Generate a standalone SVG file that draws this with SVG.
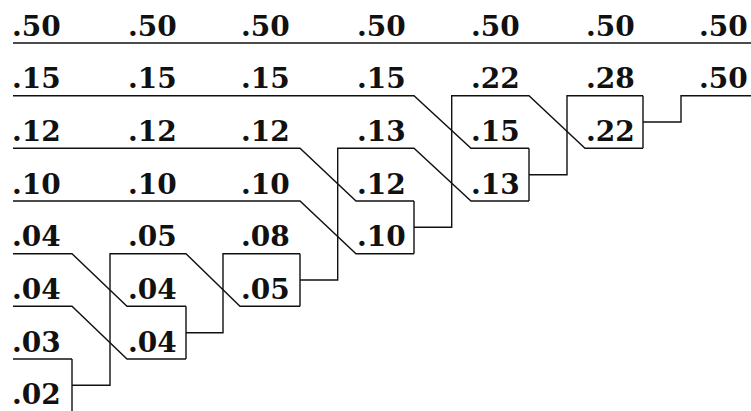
<svg xmlns="http://www.w3.org/2000/svg" width="751" height="411" viewBox="0 0 751 411">
<style>
text{font-family:"DejaVu Serif","Liberation Serif",serif;font-size:28px;font-weight:bold;fill:#111}
.c path{fill:none;stroke:#111;stroke-width:1.4}
</style>
<rect width="751" height="411" fill="#fff"/>
<g id="connectors" class="c">
<path d="M13,43 H751"/>
<path d="M13,95.7 H414 L471,148.3 H529"/>
<path d="M13,148.3 H300 L356,201 H414"/>
<path d="M13,201 H300 L356,253.7 H414"/>
<path d="M13,253.7 H72 L127,306.3 H186"/>
<path d="M13,306.3 H72 L127,359 H186"/>
<path d="M13,359 H72"/>
<path d="M13,411.7 H72"/>
<path d="M72,359 V411.7 M72,385.3 H110 V253.7 H186 L240,306.3 H300"/>
<path d="M186,306.3 V359 M186,332.7 H223 V253.7 H300"/>
<path d="M300,253.7 V306.3 M300,280 H337.7 V148.3 H414 L471,201 H529"/>
<path d="M414,201 V253.7 M414,227.3 H451.7 V95.7 H529 L585,148.3 H643"/>
<path d="M529,148.3 V201 M529,174.7 H567 V95.7 H643"/>
<path d="M643,95.7 V148.3 M643,122 H681 V95.7 H751"/>
</g>
<g id="col0">
<text id="n0_0" x="12" y="35.5">.50</text>
<text id="n0_1" x="12" y="88.2">.15</text>
<text id="n0_2" x="12" y="140.8">.12</text>
<text id="n0_3" x="12" y="193.5">.10</text>
<text id="n0_4" x="12" y="246.2">.04</text>
<text id="n0_5" x="12" y="298.8">.04</text>
<text id="n0_6" x="12" y="351.5">.03</text>
<text id="n0_7" x="12" y="404.2">.02</text>
</g>
<g id="col1">
<text id="n1_0" x="128" y="35.5">.50</text>
<text id="n1_1" x="128" y="88.2">.15</text>
<text id="n1_2" x="128" y="140.8">.12</text>
<text id="n1_3" x="128" y="193.5">.10</text>
<text id="n1_4" x="128" y="246.2">.05</text>
<text id="n1_5" x="128" y="298.8">.04</text>
<text id="n1_6" x="128" y="351.5">.04</text>
</g>
<g id="col2">
<text id="n2_0" x="241" y="35.5">.50</text>
<text id="n2_1" x="241" y="88.2">.15</text>
<text id="n2_2" x="241" y="140.8">.12</text>
<text id="n2_3" x="241" y="193.5">.10</text>
<text id="n2_4" x="241" y="246.2">.08</text>
<text id="n2_5" x="241" y="298.8">.05</text>
</g>
<g id="col3">
<text id="n3_0" x="357" y="35.5">.50</text>
<text id="n3_1" x="357" y="88.2">.15</text>
<text id="n3_2" x="357" y="140.8">.13</text>
<text id="n3_3" x="357" y="193.5">.12</text>
<text id="n3_4" x="357" y="246.2">.10</text>
</g>
<g id="col4">
<text id="n4_0" x="471" y="35.5">.50</text>
<text id="n4_1" x="471" y="88.2">.22</text>
<text id="n4_2" x="471" y="140.8">.15</text>
<text id="n4_3" x="471" y="193.5">.13</text>
</g>
<g id="col5">
<text id="n5_0" x="586" y="35.5">.50</text>
<text id="n5_1" x="586" y="88.2">.28</text>
<text id="n5_2" x="586" y="140.8">.22</text>
</g>
<g id="col6">
<text id="n6_0" x="699" y="35.5">.50</text>
<text id="n6_1" x="699" y="88.2">.50</text>
</g>
</svg>
